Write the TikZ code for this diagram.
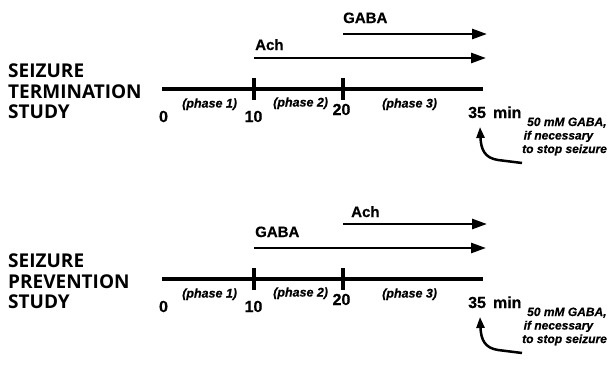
\documentclass[tikz,border=0pt]{standalone}
\usepackage{fontspec}
\setmainfont{Liberation Sans}[BoldFeatures={FakeBold=0.5}, BoldItalicFeatures={FakeBold=0.5}]
\newfontfamily\titlefont{Open Sans}
\usetikzlibrary{arrows.meta}

\tikzset{
  title/.style={anchor=base west, inner sep=0pt, font=\titlefont\bfseries\fontsize{19}{20}\selectfont},
  drug/.style={anchor=base west, inner sep=0pt, font=\bfseries\fontsize{15}{16}\selectfont},
  num/.style={anchor=base, inner sep=0pt, font=\bfseries\fontsize{16}{17}\selectfont},
  phase/.style={anchor=base west, inner sep=0pt, font=\bfseries\itshape\fontsize{12.5}{13}\selectfont},
  note/.style={anchor=base west, inner sep=0pt, align=left,
    font=\bfseries\itshape\fontsize{12}{13.5}\selectfont},
  axis/.style={line width=4pt},
  tick/.style={line width=4pt},
  drugarrow/.style={line width=2.7pt, -{Triangle[length=15pt,width=10pt]}},
  rescue/.style={line width=2.5pt, -{Triangle[length=11pt,width=8pt]}},
}

% one study panel: #1 name prefix, #2 second title word, #3 baseline of first drug label, #4 first drug
\newcommand{\studypanel}[4]{%
  % study title
  \node[title] (#1-t1) at (8,77) {SEIZURE};
  \node[title] (#1-t2) at (8,98) {#2};
  \node[title] (#1-t3) at (8,118) {STUDY};
  % time axis with ticks at 10 and 20 min
  \coordinate (#1-a0) at (162,89);
  \coordinate (#1-a35) at (483,89);
  \coordinate (#1-k10a) at (254,78);
  \coordinate (#1-k10b) at (254,100);
  \coordinate (#1-k20a) at (343,78);
  \coordinate (#1-k20b) at (343,100);
  \draw[axis] (#1-a0) -- (#1-a35);
  \draw[tick] (#1-k10a) -- (#1-k10b);
  \draw[tick] (#1-k20a) -- (#1-k20b);
  % time labels
  \node[num] (#1-n0) at (163.5,122) {0};
  \node[num] (#1-n10) at (253.5,122) {10};
  \node[num] (#1-n20) at (341.5,115) {20};
  \node[num, anchor=base west] (#1-n35) at (468,118) {35\hspace{7pt}min};
  % phase labels
  \node[phase] (#1-p1) at (182,107.5) {(phase 1)};
  \node[phase] (#1-p2) at (273,106.5) {(phase 2)};
  \node[phase] (#1-p3) at (382,107.5) {(phase 3)};
  % drug application arrows
  \coordinate (#1-d1s) at (254,58);
  \coordinate (#1-d1e) at (486,58);
  \coordinate (#1-d2s) at (343,34);
  \coordinate (#1-d2e) at (487,34);
  \draw[drugarrow] (#1-d1s) -- (#1-d1e);
  \draw[drugarrow] (#1-d2s) -- (#1-d2e);
  \node[drug] (#1-l1) at (255,#3) {#4};
  % rescue note and its arrow
  \node[note] (#1-note) at (522,153) {\hspace{5pt}50 mM GABA,\\\hspace{1.5pt}if necessary\\to stop seizure};
  \coordinate (#1-rt) at (522,163);
  \coordinate (#1-rm) at (498,160);
  \coordinate (#1-rh) at (480,127);
  \draw[rescue] (#1-rt) -- (#1-rm) .. controls (485,158) and (481,150) .. (#1-rh);
}

\begin{document}
\begin{tikzpicture}[x=1pt,y=-1pt]
  \useasboundingbox[fill=white] (0,0) rectangle (611,378);
  \begin{scope}
    \studypanel{term}{TERMINATION}{50}{Ach}
    \node[drug] (term-l2) at (343,23) {GABA};
  \end{scope}
  \begin{scope}[shift={(0,190)}]
    \studypanel{prev}{PREVENTION}{47}{GABA}
    \node[drug] (prev-l2) at (351,27) {Ach};
  \end{scope}
\end{tikzpicture}
\end{document}
